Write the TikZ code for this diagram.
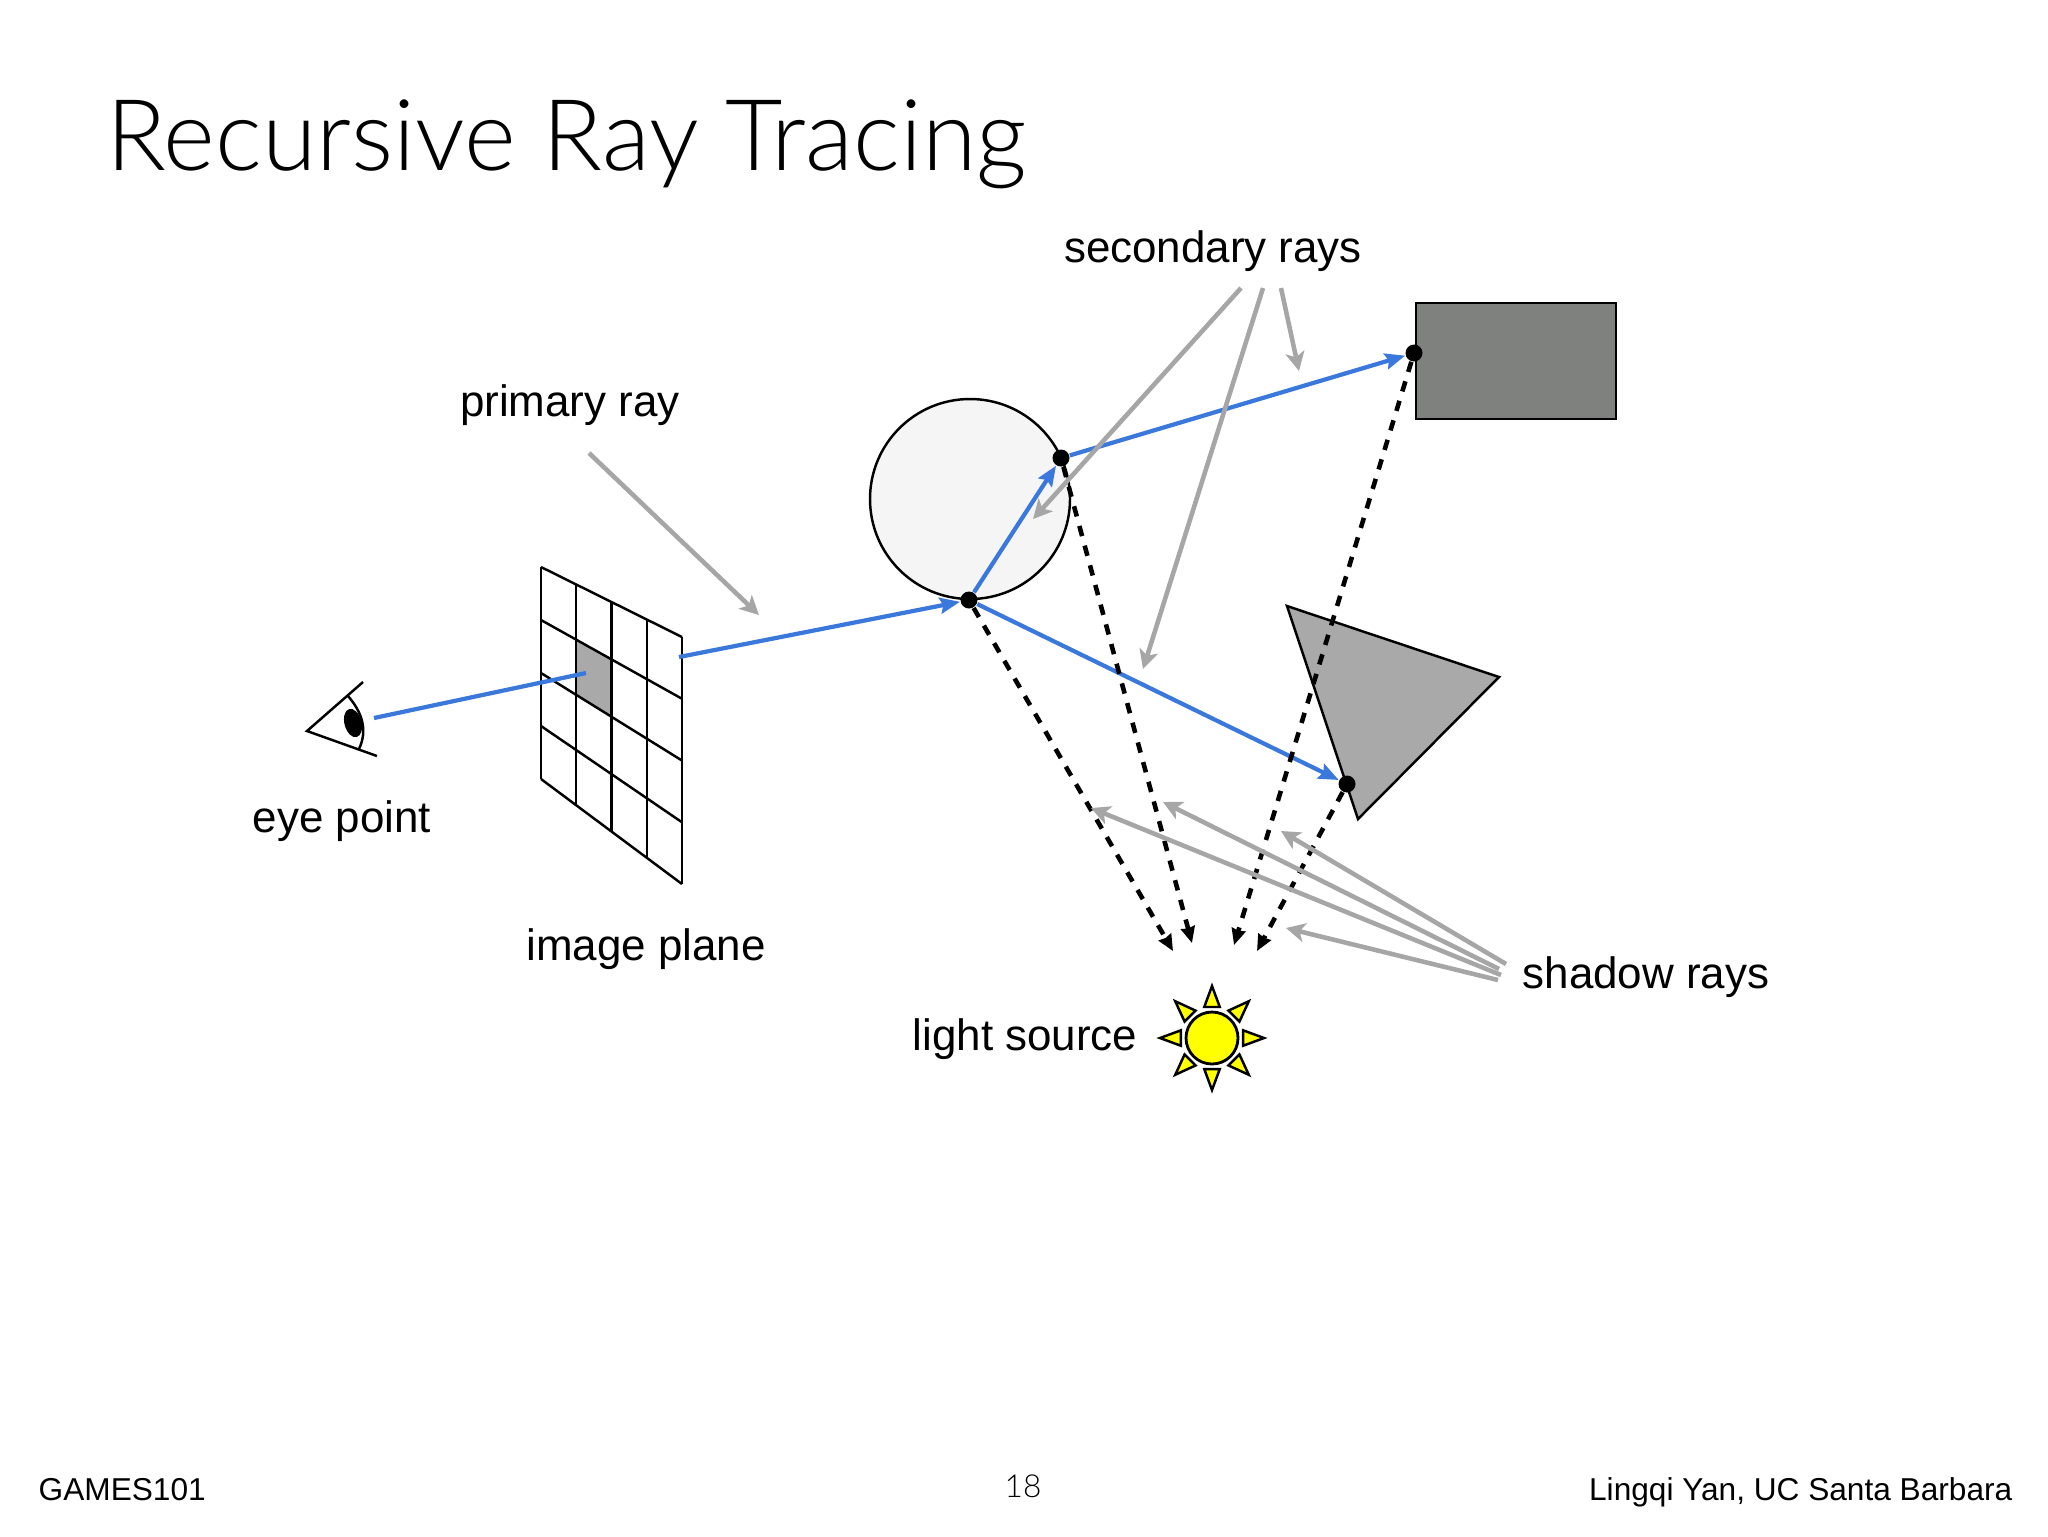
\documentclass[tikz,border=0pt]{standalone}
\usepackage{fontspec}
\setmainfont{Liberation Sans}
\newfontfamily\titlefont{Lato Light}
\usetikzlibrary{arrows.meta,calc}
\definecolor{cblue}{HTML}{3A78DC}
\definecolor{cgray}{HTML}{A6A6A6}
\definecolor{cshade}{HTML}{A9A9A9}
\definecolor{cdark}{HTML}{7F817F}
\definecolor{cball}{HTML}{F5F5F5}
\definecolor{csun}{HTML}{FFFF00}

\begin{document}
\begin{tikzpicture}[
  x=0.1mm,y=-0.1mm,
  label/.style={font=\fontsize{12.5}{15}\selectfont,inner sep=0pt},
  foot/.style={font=\fontsize{9}{11}\selectfont,inner sep=0pt},
  hitdot/.style={circle,fill=black,minimum size=1.7mm,inner sep=0pt},
  edge/.style={draw=black,line width=0.7pt,line join=miter},
  bluesegment/.style={cblue,line width=1.2pt},
  bluearrow/.style={bluesegment,-{Stealth[length=2mm,width=1.6mm,inset=0.3mm]}},
  grayarrow/.style={cgray,line width=1.3pt,-{Stealth[length=1.9mm,width=1.9mm,inset=0.5mm]}},
  shadowarrow/.style={black,line width=1.3pt,dash pattern=on 3pt off 2.8pt,
    -{Stealth[length=1.6mm,width=1.4mm,inset=0.1mm]}}]
  \useasboundingbox (0,0) rectangle (2048,1536);

  % title and footer
  \node[font=\titlefont\fontsize{28.2}{34}\selectfont,anchor=base west,inner sep=0pt] (title) at (106,170) {Recursive Ray Tracing};
  \node[foot,anchor=base west] (games) at (38,1500) {GAMES101};
  \node[foot,font=\titlefont\fontsize{9}{11}\selectfont] (page) at (1023,1486) {18};
  \node[foot,anchor=base east] (author) at (2013,1500) {Lingqi Yan, UC Santa Barbara};

  % image plane
  \coordinate (gridtl) at (541,567);
  \coordinate (gridtr) at (682,637);
  \coordinate (gridbl) at (541,779);
  \coordinate (gridbr) at (682,884);
  \fill[cshade] (576,640) -- (612,659) -- (612,717) -- (576,695) -- cycle;
  \foreach \i in {0,...,4} {
    \draw[edge] ($(gridtl)!\i*0.25!(gridtr)$) -- ($(gridbl)!\i*0.25!(gridbr)$);
    \draw[edge] ($(gridtl)!\i*0.25!(gridbl)$) -- ($(gridtr)!\i*0.25!(gridbr)$);
  }

  % eye
  \draw[edge] (363,682) -- (307,731) -- (377,756);
  \draw[edge] (348,696) .. controls (362,712) and (368,730) .. (359,749);
  \fill[rotate around={15:(353,723)}] (353,723) ellipse (8.5 and 14.5);
  \coordinate (eye) at (374,718);
  \coordinate (pixel) at (586,673);
  \coordinate (planeout) at (679,657);

  % scene objects
  \node[circle,draw=black,fill=cball,line width=0.7pt,minimum size=20cm*0.1,inner sep=0pt] (ball) at (970,499) {};
  \draw[edge,fill=cdark] (1416,303) rectangle (1616,419);
  \draw[edge,fill=cshade] (1287,606) -- (1499,677) -- (1358,819) -- cycle;

  % sun
  \node[circle,draw=black,fill=csun,line width=0.8pt,minimum size=5.2mm,inner sep=0pt] (sun) at (1212,1038) {};
  \foreach \a in {0,45,...,315} {
    \draw[edge,fill=csun] ($(sun)+(\a:52)$) -- ($(sun)+(\a+14:32)$) -- ($(sun)+(\a-14:32)$) -- cycle;
  }

  % hit points
  \node[hitdot] (hita) at (969,600) {};
  \node[hitdot] (hitb) at (1061,458) {};
  \node[hitdot] (hitc) at (1414,353) {};
  \node[hitdot] (hitd) at (1347,784) {};

  % blue rays
  \draw[bluesegment] (eye) -- (pixel);
  \draw[bluearrow] (planeout) -- (hita);
  \draw[bluearrow] (hita) -- (hitb);
  \draw[bluearrow] (hitb) -- (hitc);
  \draw[bluearrow] (hita) -- (hitd);

  % shadow rays
  \coordinate (enda) at (1173,951);
  \coordinate (endb) at (1192,943);
  \coordinate (endc) at (1234,945);
  \coordinate (endd) at (1257,951);
  \draw[shadowarrow] (hita) -- (enda);
  \draw[shadowarrow] (hitb) -- (endb);
  \draw[shadowarrow] (hitc) -- (endc);
  \draw[shadowarrow] (hitd) -- (endd);

  % labels
  \node[label] (primary) at (570,405) {primary ray};
  \node[label] (secondary) at (1213,251) {secondary rays};
  \node[label] (eyepoint) at (342,821) {eye point};
  \node[label] (plane) at (646,949) {image plane};
  \node[label] (light) at (1025,1039) {light source};
  \node[label] (shadow) at (1646,977) {shadow rays};

  % gray pointers
  \coordinate (priout) at (589,453);
  \coordinate (pritip) at (759,615);
  \draw[grayarrow] (priout) -- (pritip);
  \coordinate (secouta) at (1241,288);
  \coordinate (secoutb) at (1263,288);
  \coordinate (secoutc) at (1281,288);
  \coordinate (sectipa) at (1033,519);
  \coordinate (sectipb) at (1143,669);
  \coordinate (sectipc) at (1299,371);
  \draw[grayarrow] (secouta) -- (sectipa);
  \draw[grayarrow] (secoutb) -- (sectipb);
  \draw[grayarrow] (secoutc) -- (sectipc);
  \coordinate (shaouta) at (1506,964);
  \coordinate (shaoutb) at (1499,969);
  \coordinate (shaoutc) at (1501,975);
  \coordinate (shaoutd) at (1498,980);
  \coordinate (shatipa) at (1281,831);
  \coordinate (shatipb) at (1163,802);
  \coordinate (shatipc) at (1091,808);
  \coordinate (shatipd) at (1286,928);
  \draw[grayarrow] (shaouta) -- (shatipa);
  \draw[grayarrow] (shaoutb) -- (shatipb);
  \draw[grayarrow] (shaoutc) -- (shatipc);
  \draw[grayarrow] (shaoutd) -- (shatipd);
\end{tikzpicture}
\end{document}
